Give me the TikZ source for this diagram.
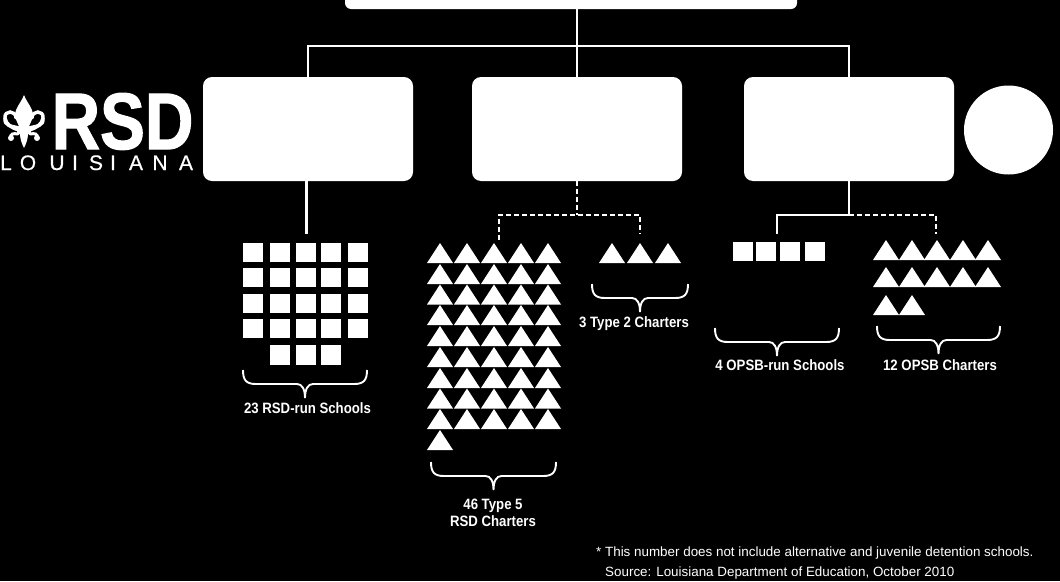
\documentclass[tikz,border=0pt]{standalone}
\usepackage{fontspec}
\setmainfont{Liberation Sans}
\newfontfamily\logofont[FakeBold=1.6]{Liberation Sans Bold}
\newfontfamily\logosmall[FakeBold=0.5]{Liberation Sans}

\newcommand{\squarerow}[3]{\foreach \x in {#1} \fill[white] (\x,#2) rectangle ++(19.5,#3);}
\newcommand{\trianglerow}[2]{\foreach \x in {#1} \fill[white] (\x,#2) -- ++(13,-20) -- ++(13,20) -- cycle;}
\newcommand{\curlybrace}[3]{%
    \draw[curly] (#1,#3) .. controls (#1,#3+10) and (#1+3,#3+14) .. (#1+13,#3+14)
        -- ({(#1+#2)/2-8},#3+14) .. controls ({(#1+#2)/2-3},#3+14) and ({(#1+#2)/2},#3+19) .. ({(#1+#2)/2},#3+28)
        .. controls ({(#1+#2)/2},#3+19) and ({(#1+#2)/2+3},#3+14) .. ({(#1+#2)/2+8},#3+14)
        -- (#2-13,#3+14) .. controls (#2-3,#3+14) and (#2,#3+10) .. (#2,#3);}

\begin{document}
\begin{tikzpicture}[
    x=1pt, y=-1pt,
    panel/.style={rectangle, fill=white, rounded corners=9pt, minimum width=210pt, minimum height=104pt, inner sep=0pt},
    solidline/.style={draw=white, line width=2.4pt},
    dashline/.style={draw=white, line width=2.4pt, dash pattern=on 5pt off 3pt},
    curly/.style={draw=white, line width=1.9pt},
    caption/.style={text=white, font=\fontsize{15}{17.5}\selectfont\bfseries, xscale=0.88, align=center, inner sep=0pt},
    note/.style={text=white, font=\fontsize{13.4}{20}\selectfont, align=left, inner sep=0pt, anchor=north west},
]
    \fill[black] (0,0) rectangle (1060,581);
    \clip (0,0) rectangle (1060,581);

    % top row
    \node[panel, minimum width=452pt, minimum height=40pt, rounded corners=6pt] (topbox) at (571,-11) {};
    \node[panel] (rsdbox) at (308,129) {};
    \node[panel] (charterbox) at (577,129) {};
    \node[panel] (opsbbox) at (849,129) {};
    \node[circle, fill=white, minimum size=89pt, inner sep=0pt] (starcircle) at (1008.5,130) {};

    \coordinate (hub) at (577,46);
    \coordinate (charterhub) at (577,215);
    \coordinate (opsbhub) at (849,215);
    \coordinate (rsdrun) at (306.5,234);
    \coordinate (typefive) at (499,240);
    \coordinate (typetwo) at (640,234);
    \coordinate (opsbrun) at (777,234);
    \coordinate (opsbcharter) at (936,234);

    \draw[solidline] (topbox.south -| hub) -- (hub);
    \draw[solidline] (rsdbox.north) |- (hub) -| (opsbbox.north);
    \draw[solidline] (hub) -- (charterbox.north);
    \draw[solidline] (rsdbox.south -| rsdrun) -- (rsdrun);
    \draw[dashline] (charterbox.south) -- (charterhub);
    \draw[dashline] (typefive) |- (charterhub) -| (typetwo);
    \draw[solidline] (opsbbox.south) -- (opsbhub);
    \draw[solidline] (opsbhub) -| (opsbrun);
    \draw[dashline] (opsbhub) -| (opsbcharter);

    % schools
    \foreach \y in {243,268,294,319} {\squarerow{243,270,296,321,348}{\y}{19}}
    \squarerow{270,296,321}{345}{20}
    \foreach \y in {263,284,304.5,325,346,367,388,408.5,429} {\trianglerow{427,454,481,508,535}{\y}}
    \trianglerow{427}{450}
    \trianglerow{599,627,655}{263}
    \squarerow{733,756,780,805}{242}{19}
    \trianglerow{873,899,924,950,975}{260}
    \trianglerow{873,899,924,950,975}{287}
    \trianglerow{873,899}{315}

    % braces
    \curlybrace{243}{367}{370}
    \curlybrace{431}{556}{462}
    \curlybrace{592}{688}{284}
    \curlybrace{715}{839}{328}
    \curlybrace{877}{1000}{326}

    \node[caption] (rsdrunlabel) at (307.5,408.5) {23 RSD-run Schools};
    \node[caption] (typefivelabel) at (493,513) {46 Type 5\\RSD Charters};
    \node[caption] (typetwolabel) at (634,324) {3 Type 2 Charters};
    \node[caption] (opsbrunlabel) at (780,365) {4 OPSB-run Schools};
    \node[caption] (opsbcharterlabel) at (940,365) {12 OPSB Charters};
    \node[note] (footnote) at (596,547) {* This number does not include alternative and juvenile detention schools.\\\hspace*{9pt}Source: Louisiana Department of Education, October 2010};

    % logo
    \fill[white] (24,95) .. controls (27,103) and (33,108) .. (33,115) .. controls (33,120) and (29,124) .. (28,130)
        -- (31,130) -- (31,134) -- (28,134) .. controls (28,139) and (26,144) .. (24,148)
        .. controls (22,144) and (20,139) .. (20,134) -- (17,134) -- (17,130) -- (20,130)
        .. controls (19,124) and (15,120) .. (15,115) .. controls (15,108) and (21,103) .. (24,95) -- cycle;
    \foreach \side in {1,-1} {
        \draw[white, line width=3.4pt, line cap=round, shift={(24,0)}, xscale=\side]
            (5,130) .. controls (13,128) and (18,124) .. (19,118) .. controls (20,110) and (8,110) .. (8,118);
        \draw[white, line width=3.4pt, line cap=round, shift={(24,0)}, xscale=\side]
            (5,128) .. controls (13,126) and (20,126) .. (19,118);
        \draw[white, line width=3pt, line cap=round, shift={(24,0)}, xscale=\side]
            (6,134) .. controls (11,133) and (14,134) .. (13,138);
        \fill[white, shift={(24,0)}, xscale=\side] (13,138) circle (3pt);
    }
    \node[text=white, inner sep=0pt, anchor=base, xscale=0.84, font=\logofont\fontsize{80}{80}\selectfont] (rsdword) at (122.5,149) {RSD};
    \foreach \x/\c in {6/L,28/O,57/U,75/I,96/S,113/I,136/A,160/N,186/A}
        \node[text=white, inner sep=0pt, anchor=base, font=\logosmall\fontsize{21}{21}\selectfont] (logo\x) at (\x,170) {\c};
\end{tikzpicture}
\end{document}
